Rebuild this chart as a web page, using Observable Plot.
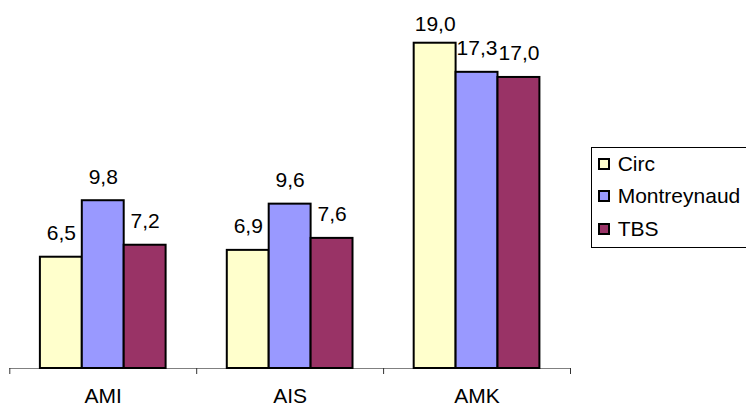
<!DOCTYPE html>
<html>
<head>
<meta charset="utf-8">
<script src="https://cdn.jsdelivr.net/npm/d3@7"></script>
<script src="https://cdn.jsdelivr.net/npm/@observablehq/plot@0.6"></script>
<style>
  html, body { margin: 0; padding: 0; background: #fff; overflow: hidden; }
  #chart { position: relative; width: 746px; height: 406px; overflow: hidden; font-family: "Liberation Sans", Arial, sans-serif; }
  #chart svg { display: block; }
  .legend {
    position: absolute; left: 591px; top: 146.7px; width: 170px; height: 101px;
    box-sizing: border-box; border: 1px solid #000; background: #fff;
    font-size: 21px; color: #000;
  }
  .legend .row { display: flex; align-items: center; height: 32.4px; padding-left: 5.7px; }
  .legend .sw { width: 12px; height: 12px; box-sizing: border-box; border: 2px solid #000; margin-right: 8px; flex: none; }
</style>
</head>
<body>
<div id="chart"></div>
<script>
// Grouped bars: three indicators, one bar per site
const groups = ["AMI", "AIS", "AMK"];
const series = ["Circ", "Montreynaud", "TBS"];
const circ = [6.5, 6.9, 19.0];
const montreynaud = [9.8, 9.6, 17.3];
const tbs = [7.2, 7.6, 17.0];
const colors = ["#FFFFCC", "#9999FF", "#993366"];

const seriesValues = [circ, montreynaud, tbs];
const rows = groups.flatMap((group, gi) =>
  series.map((name, si) => ({group, gi, series: name, value: seriesValues[si][gi]}))
);

// Position of each bar inside its group slot (one unit wide on x)
const inner = d3.scaleBand().domain(series).range([0, 1]).paddingInner(0).paddingOuter(0.73);
const left = d => d.gi + inner(d.series);
const right = d => d.gi + inner(d.series) + inner.bandwidth();
const center = d => d.gi + inner(d.series) + inner.bandwidth() / 2;

const fmt = v => d3.format(".1f")(v).replace(".", ",");
const labelCeiling = 18.7; // keeps the tallest label inside the plot area

const chart = Plot.plot({
  width: 746,
  height: 406,
  marginLeft: 9.3,
  marginRight: 176,
  marginTop: 25.6,
  marginBottom: 38,
  x: {domain: [0, groups.length], axis: null},
  y: {domain: [0, 20], axis: null},
  color: {domain: series, range: colors},
  style: {fontFamily: '"Liberation Sans", Arial, sans-serif', fontSize: "21px", background: "#fff", color: "#000"},
  marks: [
    Plot.ruleY([0], {stroke: "#808080", strokeWidth: 1}),
    Plot.axisX({ticks: d3.range(groups.length + 1), tickSize: 6, tickFormat: () => "", stroke: "#333", label: null}),
    Plot.rect(rows, {x1: left, x2: right, y1: 0, y2: "value", fill: "series", stroke: "#000", strokeWidth: 2, inset: 0}),
    Plot.text(rows, {
      x: center,
      y: d => Math.min(d.value, labelCeiling),
      text: d => fmt(d.value),
      lineAnchor: "bottom",
      dy: -17,
      fontSize: 21,
      fill: "#000"
    }),
    Plot.text(groups, {
      x: (d, i) => i + 0.5,
      frameAnchor: "bottom",
      lineAnchor: "top",
      dy: 20,
      fontSize: 21,
      fill: "#000"
    })
  ]
});

const root = document.getElementById("chart");
root.appendChild(chart);

// Legend box on the right
const legend = document.createElement("div");
legend.className = "legend";
series.forEach((name, i) => {
  const row = document.createElement("div");
  row.className = "row";
  const sw = document.createElement("span");
  sw.className = "sw";
  sw.style.background = colors[i];
  const label = document.createElement("span");
  label.textContent = name;
  row.appendChild(sw);
  row.appendChild(label);
  legend.appendChild(row);
});
root.appendChild(legend);
</script>
</body>
</html>
